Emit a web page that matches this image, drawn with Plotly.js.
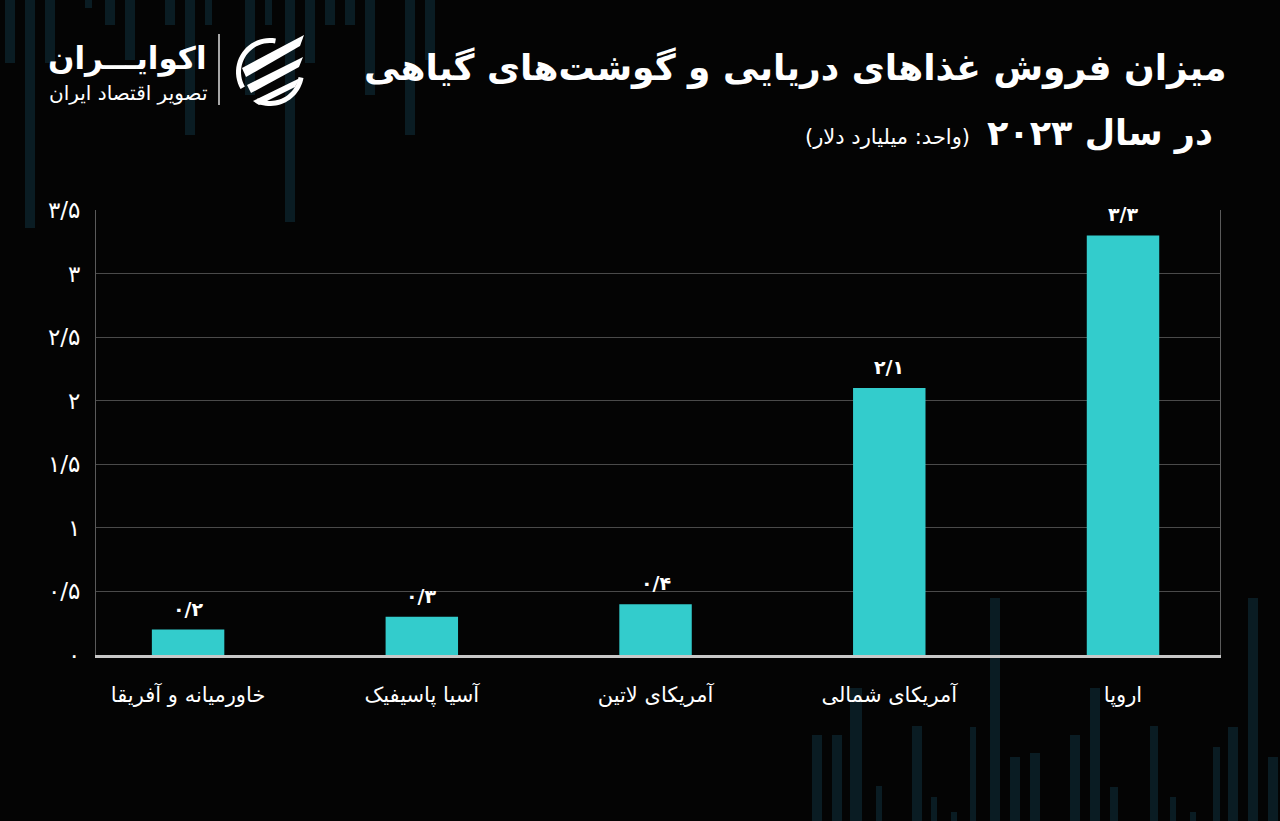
<!DOCTYPE html>
<html>
<head>
<meta charset="utf-8">
<script src="https://cdn.plot.ly/plotly-3.0.1.min.js"></script>
<style>html,body{margin:0;padding:0;background:#040404;}#chart{width:1280px;height:821px;}</style>
</head>
<body>
<div id="chart"></div>
<script>
// ---- data ----
const categories = ["خاورمیانه و آفریقا", "آسیا پاسیفیک", "آمریکای لاتین", "آمریکای شمالی", "اروپا"];
const values = [0.2, 0.3, 0.4, 2.1, 3.3];
const yTickVals = [0, 0.5, 1, 1.5, 2, 2.5, 3, 3.5];
const yTickText = ["۰", "۰/۵", "۱", "۱/۵", "۲", "۲/۵", "۳", "۳/۵"];

const titleLine1 = "میزان فروش غذاهای دریایی و گوشت\u200Cهای گیاهی";
const titleLine2 = "در سال ۲۰۲۳";
const unitText = "(واحد: میلیارد دلار)";
const brandName = "اکوایـــران";
const brandSub = "تصویر اقتصاد ایران";

function toFa(v) {
  const d = "۰۱۲۳۴۵۶۷۸۹";
  return String(v).replace(/[0-9]/g, c => d[+c]).replace(".", "/");
}
const labels = values.map(toFa);

// ---- geometry helpers (pixel -> paper) ----
const L = 96, R = 1220, T = 210, B = 655;
const fx = p => (p - L) / (R - L);
const fy = p => (B - p) / (B - T);
const FONT = "DejaVu Sans, Noto Sans, sans-serif";
const deco = "#0a1c23";

const shapes = [];
function bgBar(x0, x1, y0, y1) {
  shapes.push({type: "rect", xref: "paper", yref: "paper", x0: fx(x0), x1: fx(x1), y0: fy(y1), y1: fy(y0),
    fillcolor: deco, line: {width: 0}, layer: "below"});
}
// decorative background bars (top-left)
[[5,15,0,63],[25,35,0,228],[45,55,0,63],[85,92,0,8],[105,115,0,25],[125,135,0,60],[165,175,0,25],
 [185,195,0,135],[205,212,0,25],[245,255,0,95],[265,272,0,25],[285,295,0,222],[305,315,0,63],
 [325,335,0,25],[345,355,0,25],[365,375,0,95],[405,415,0,135],[425,435,0,60]].forEach(b => bgBar(...b));
// decorative background bars (bottom-right)
[[812,822,735,821],[832,842,735,821],[850,862,688,821],[876,882,786,821],[912,922,726,821],
 [931,937,797,821],[951,957,812,821],[970,976,727,821],[990,1000,598,821],[1010,1020,757,821],
 [1030,1040,753,821],[1070,1080,735,821],[1090,1100,688,821],[1110,1118,787,821],[1150,1158,726,821],
 [1170,1176,797,821],[1190,1196,812,821],[1213,1220,747,821],[1228,1238,727,821],[1248,1258,598,821],
 [1268,1278,757,821]].forEach(b => bgBar(...b));

function pathPx(pts) {
  return "M" + pts.map(p => fx(p[0]) + "," + fy(p[1])).join(" L") + " Z";
}
// logo separator line
shapes.push({type: "line", xref: "paper", yref: "paper", x0: fx(219), x1: fx(219), y0: fy(34), y1: fy(105),
  line: {color: "#dddddd", width: 1.5}});
// logo icon ring arcs
function arcPts(cx, cy, r, a0, a1, n) {
  const pts = [];
  for (let i = 0; i <= n; i++) {
    const a = (a0 + (a1 - a0) * i / n) * Math.PI / 180;
    pts.push([cx + r * Math.cos(a), cy - r * Math.sin(a)]);
  }
  return pts;
}
function arcBand(cx, cy, r0, r1, a0, a1) {
  const outer = arcPts(cx, cy, r1, a0, a1, 24);
  const inner = arcPts(cx, cy, r0, a1, a0, 24);
  return pathPx(outer.concat(inner));
}
shapes.push({type: "path", xref: "paper", yref: "paper", path: arcBand(270, 72, 29, 34, 80, 210),
  fillcolor: "#ffffff", line: {width: 0}});
shapes.push({type: "path", xref: "paper", yref: "paper", path: arcBand(270, 72, 29, 34, 245, 350),
  fillcolor: "#ffffff", line: {width: 0}});
// logo stripes
[[[242,68],[304,35],[300,46],[246,77]],
 [[247,85],[303,57],[299,67],[251,93]],
 [[253,101],[300,78],[295,87],[259,105]]].forEach(p =>
  shapes.push({type: "path", xref: "paper", yref: "paper", path: pathPx(p), fillcolor: "#ffffff", line: {width: 0}}));

const annotations = [
  {text: "<b>" + titleLine1 + "</b>", xref: "paper", yref: "paper", x: fx(1228), y: fy(68),
   xanchor: "right", yanchor: "middle", showarrow: false, font: {family: FONT, size: 36, color: "#ffffff"}},
  {text: "<b>" + titleLine2 + "</b>", xref: "paper", yref: "paper", x: fx(1215), y: fy(133),
   xanchor: "right", yanchor: "middle", showarrow: false, font: {family: FONT, size: 35, color: "#ffffff"}},
  {text: unitText, xref: "paper", yref: "paper", x: fx(972), y: fy(137),
   xanchor: "right", yanchor: "middle", showarrow: false, font: {family: FONT, size: 21, color: "#ffffff"}},
  {text: "<b>" + brandName + "</b>", xref: "paper", yref: "paper", x: fx(209), y: fy(58),
   xanchor: "right", yanchor: "middle", showarrow: false, font: {family: FONT, size: 31, color: "#ffffff"}},
  {text: brandSub, xref: "paper", yref: "paper", x: fx(209), y: fy(93),
   xanchor: "right", yanchor: "middle", showarrow: false, font: {family: FONT, size: 20, color: "#ffffff"}}
];
// value labels placed through the axes' own scales
categories.forEach((c, i) => annotations.push({
  text: "<b>" + labels[i] + "</b>", xref: "x", yref: "y", x: c, y: values[i],
  xanchor: "center", yanchor: "bottom", yshift: 8, showarrow: false,
  font: {family: FONT, size: 19, color: "#ffffff"}
}));

const trace = {
  type: "bar",
  x: categories,
  y: values,
  cliponaxis: false,
  width: 0.31,
  marker: {color: "#33cccc", line: {width: 0}},
  hoverinfo: "skip"
};

const layout = {
  width: 1280, height: 821,
  paper_bgcolor: "#040404",
  plot_bgcolor: "rgba(0,0,0,0)",
  margin: {l: L, r: 1280 - R, t: T, b: 821 - B, pad: 0},
  showlegend: false,
  xaxis: {
    type: "category",
    range: [-0.394, 4.415],
    showgrid: false,
    zeroline: false,
    showline: true, linecolor: "#c8c8c8", linewidth: 3,
    ticks: "",
    ticklabelstandoff: 19,
    tickfont: {family: FONT, size: 21, color: "#ffffff"},
    fixedrange: true
  },
  yaxis: {
    range: [0, 3.5],
    tickvals: yTickVals,
    ticktext: yTickText,
    showgrid: true, gridcolor: "#4a4a4a", gridwidth: 1,
    zeroline: false,
    showline: true, linecolor: "#5a5a5a", linewidth: 1, mirror: true,
    ticks: "",
    ticklabelstandoff: 10,
    tickfont: {family: FONT, size: 23, color: "#ffffff"},
    fixedrange: true
  },
  shapes: shapes,
  annotations: annotations,
  bargap: 0.5
};

Plotly.newPlot("chart", [trace], layout, {displayModeBar: false, staticPlot: true});
</script>
</body>
</html>
